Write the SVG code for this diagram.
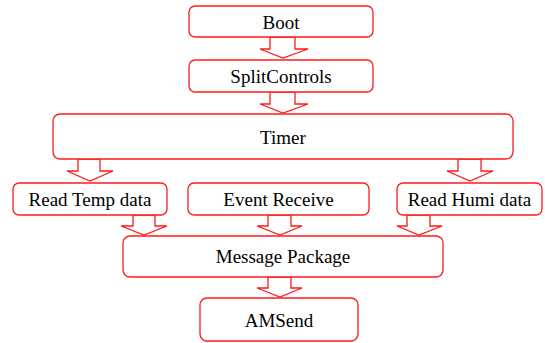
<svg xmlns="http://www.w3.org/2000/svg" width="545" height="343" viewBox="0 0 545 343">
  <style>
    .box { fill: #ffffff; stroke: #ff1a1a; stroke-width: 1.3; }
    .lbl { font-family: "Liberation Serif", "Times New Roman", serif; font-size: 19px; fill: #000000; text-anchor: middle; }
    .blk { fill: #ffffff; stroke: #ff1a1a; stroke-width: 1.3; stroke-linejoin: miter; }
  </style>
  <rect width="545" height="343" fill="#ffffff"/>

  <!-- hollow block arrows -->
  <g id="connectors">
    <path class="blk" d="M270 37 V49 H260 L283 58 L308 49 H295 V37 Z"/>
    <path class="blk" d="M270 92 V104 H260 L283 113 L308 104 H295 V92 Z"/>
    <path class="blk" d="M78 159 V171 H67 L90 181 L113 171 H100 V159 Z"/>
    <path class="blk" d="M458 159 V171 H447 L470 181 L493 171 H481 V159 Z"/>
    <path class="blk" d="M133 215 V226 H121 L144 235 L167 226 H155 V215 Z"/>
    <path class="blk" d="M268 215 V226 H257 L280 235 L302 226 H291 V215 Z"/>
    <path class="blk" d="M407 215 V226 H397 L419 235 L442 226 H430 V215 Z"/>
    <path class="blk" d="M268 277 V288 H257 L280 297 L302 288 H291 V277 Z"/>
  </g>

  <g id="boot">
    <rect class="box" x="189" y="6" width="184" height="31" rx="6"/>
    <text class="lbl" x="281" y="28.5">Boot</text>
  </g>
  <g id="splitcontrols">
    <rect class="box" x="189" y="60" width="184" height="32" rx="6"/>
    <text class="lbl" x="281" y="83">SplitControls</text>
  </g>
  <g id="timer">
    <rect class="box" x="53" y="114" width="460" height="45" rx="7"/>
    <text class="lbl" x="283" y="143.5">Timer</text>
  </g>
  <g id="read-temp">
    <rect class="box" x="13" y="183" width="154" height="32" rx="6"/>
    <text class="lbl" x="90" y="206">Read Temp data</text>
  </g>
  <g id="event-receive">
    <rect class="box" x="188" y="183" width="181" height="32" rx="6"/>
    <text class="lbl" x="278.5" y="206">Event Receive</text>
  </g>
  <g id="read-humi">
    <rect class="box" x="397" y="183" width="145" height="32" rx="6"/>
    <text class="lbl" x="469.5" y="206">Read Humi data</text>
  </g>
  <g id="message-package">
    <rect class="box" x="123" y="236" width="320" height="41" rx="7"/>
    <text class="lbl" x="283" y="263">Message Package</text>
  </g>
  <g id="amsend">
    <rect class="box" x="200" y="298" width="158" height="43" rx="7"/>
    <text class="lbl" x="279" y="326.5">AMSend</text>
  </g>
</svg>
